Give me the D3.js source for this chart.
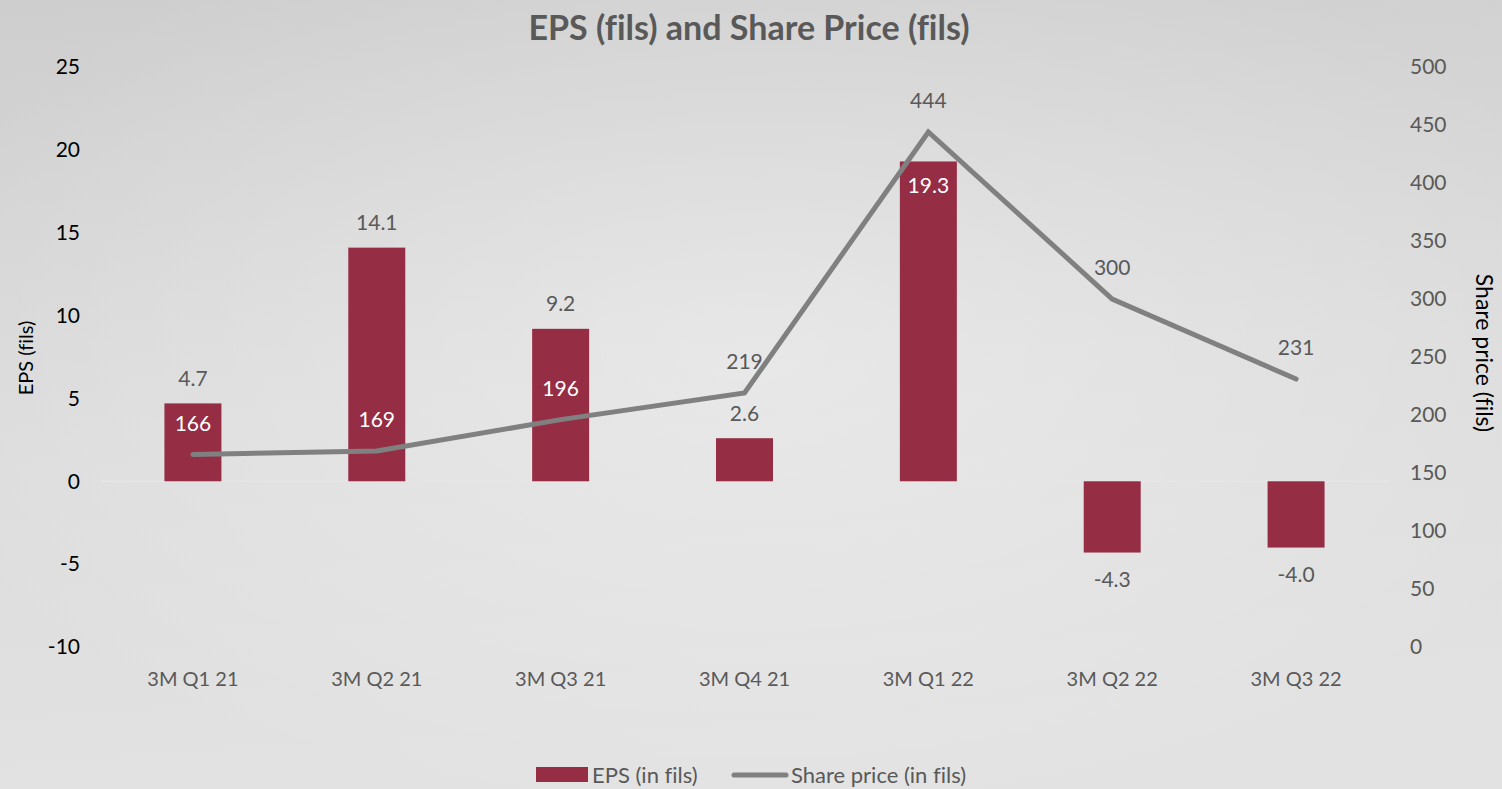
<!DOCTYPE html>
<html>
<head>
<meta charset="utf-8">
<script src="https://cdn.jsdelivr.net/npm/d3@7"></script>
<style>
  body { margin: 0; padding: 0; overflow: hidden; }
  svg { display: block; font-family: Lato, "Noto Sans", sans-serif; font-variant-ligatures: none; }
</style>
</head>
<body>
<svg id="chart" width="1502" height="789"></svg>
<script>
// chart values
var quarters = ['3M Q1 21', '3M Q2 21', '3M Q3 21', '3M Q4 21', '3M Q1 22', '3M Q2 22', '3M Q3 22'];
var eps = [4.7, 14.1, 9.2, 2.6, 19.3, -4.3, -4.0];
var sharePrice = [166, 169, 196, 219, 444, 300, 231];
var epsTicks = [-10, -5, 0, 5, 10, 15, 20, 25];
var priceTicks = [0, 50, 100, 150, 200, 250, 300, 350, 400, 450, 500];

var svg = d3.select('#chart');
var svgWidth = +svg.attr('width');
var svgHeight = +svg.attr('height');

var barColor = '#952d45';
var lineColor = '#808080';
var textGrey = '#595959';
var fontFam = 'Lato, "Noto Sans", sans-serif';

// plain hyphen instead of the unicode minus d3 uses
var fmtInt = d => String(d);
var fmtOne = d => d.toFixed(1);

// background gradient
var defs = svg.append('defs');
var bg = defs.append('linearGradient').attr('id', 'bg')
    .attr('x1', 0).attr('y1', 0).attr('x2', 0.15).attr('y2', 1);
bg.append('stop').attr('offset', '0%').attr('stop-color', '#cecece');
bg.append('stop').attr('offset', '55%').attr('stop-color', '#dcdcdc');
bg.append('stop').attr('offset', '100%').attr('stop-color', '#e2e2e2');
var glow = defs.append('radialGradient').attr('id', 'glow')
    .attr('cx', 0.5).attr('cy', 0.45).attr('r', 0.6);
glow.append('stop').attr('offset', '0%').attr('stop-color', '#ffffff').attr('stop-opacity', 0.35);
glow.append('stop').attr('offset', '100%').attr('stop-color', '#ffffff').attr('stop-opacity', 0);

svg.append('rect').attr('width', svgWidth).attr('height', svgHeight).attr('fill', 'url(#bg)');
svg.append('rect').attr('width', svgWidth).attr('height', svgHeight).attr('fill', 'url(#glow)');

// plot area
var plot = {l: 101, r: 1388, t: 67, b: 647};

var x = d3.scaleBand()
    .domain(quarters)
    .range([plot.l, plot.r])
    .paddingInner(0.69)
    .paddingOuter(0.345);

var yEps = d3.scaleLinear().domain([-10, 25]).range([plot.b, plot.t]);
var yPrice = d3.scaleLinear().domain([0, 500]).range([plot.b, plot.t]);

// title
svg.append('text')
    .attr('x', 749)
    .attr('y', 40)
    .attr('text-anchor', 'middle')
    .attr('fill', textGrey)
    .style('font-size', '34px')
    .style('font-weight', 'bold')
    .text('EPS (fils) and Share Price (fils)');

// left axis
var leftAxis = svg.append('g')
    .attr('transform', 'translate(' + 80 + ',0)')
    .call(d3.axisLeft(yEps).tickValues(epsTicks).tickFormat(fmtInt).tickSize(0).tickPadding(0));
leftAxis.select('.domain').remove();
leftAxis.selectAll('text')
    .attr('fill', '#000')
    .style('font-size', '21px')
    .style('font-family', fontFam);

// right axis
var rightAxis = svg.append('g')
    .attr('transform', 'translate(' + 1410 + ',0)')
    .call(d3.axisRight(yPrice).tickValues(priceTicks).tickFormat(fmtInt).tickSize(0).tickPadding(0));
rightAxis.select('.domain').remove();
rightAxis.selectAll('text')
    .attr('fill', textGrey)
    .style('font-size', '21px')
    .style('font-family', fontFam);

// axis titles
svg.append('text')
    .attr('transform', 'translate(33,' + 358 + ') rotate(-90)')
    .attr('text-anchor', 'middle')
    .attr('fill', '#000')
    .style('font-size', '20px')
    .text('EPS (fils)');

svg.append('text')
    .attr('transform', 'translate(1476,' + 353 + ') rotate(90)')
    .attr('text-anchor', 'middle')
    .attr('fill', '#000')
    .style('font-size', '23px')
    .text('Share price (fils)');

// category labels
var bottomAxis = svg.append('g')
    .attr('transform', 'translate(0,' + 679 + ')')
    .call(d3.axisBottom(x).tickSize(0).tickPadding(0));
bottomAxis.select('.domain').remove();
bottomAxis.selectAll('text')
    .attr('fill', textGrey)
    .attr('dy', '0.35em')
    .style('font-size', '20px')
    .style('font-family', fontFam);

// zero line
svg.append('line')
    .attr('x1', plot.l).attr('x2', plot.r)
    .attr('y1', yEps(0)).attr('y2', yEps(0))
    .attr('stroke', '#e6e6e6')
    .attr('stroke-width', 1.5);

// bars
svg.selectAll('.bar')
    .data(eps)
    .enter().append('rect')
    .attr('class', 'bar')
    .attr('x', (d, i) => x(quarters[i]))
    .attr('width', x.bandwidth())
    .attr('y', d => yEps(Math.max(0, d)))
    .attr('height', d => Math.abs(yEps(d) - yEps(0)))
    .attr('fill', barColor);

// share price line
var line = d3.line()
    .x((d, i) => x(quarters[i]) + x.bandwidth() / 2)
    .y(d => yPrice(d));

svg.append('path')
    .datum(sharePrice)
    .attr('d', line)
    .attr('fill', 'none')
    .attr('stroke', lineColor)
    .attr('stroke-width', 5)
    .attr('stroke-linecap', 'round')
    .attr('stroke-linejoin', 'miter');

// EPS labels (the tallest bar gets its label inside the end)
var maxEps = d3.max(eps);
svg.selectAll('.eps-label')
    .data(eps)
    .enter().append('text')
    .attr('class', 'eps-label')
    .attr('x', (d, i) => x(quarters[i]) + x.bandwidth() / 2)
    .attr('y', function(d) {
        if (d === maxEps) return yEps(d) + 24;
        if (d < 0) return yEps(d) + 27;
        return yEps(d) - 25;
    })
    .attr('dy', '0.35em')
    .attr('text-anchor', 'middle')
    .attr('fill', d => d === maxEps ? '#fff' : textGrey)
    .style('font-size', '21px')
    .text(fmtOne);

// share price labels, white where they sit over a bar
svg.selectAll('.price-label')
    .data(sharePrice)
    .enter().append('text')
    .attr('class', 'price-label')
    .attr('x', (d, i) => x(quarters[i]) + x.bandwidth() / 2)
    .attr('y', d => yPrice(d) - 31)
    .attr('dy', '0.35em')
    .attr('text-anchor', 'middle')
    .attr('fill', function(d, i) {
        var ly = yPrice(d) - 31;
        return (eps[i] > 0 && ly > yEps(eps[i]) + 8) ? '#fff' : textGrey;
    })
    .style('font-size', '21px')
    .text(fmtInt);

// legend
var legend = svg.append('g');
legend.append('rect')
    .attr('x', 536).attr('y', 767)
    .attr('width', 52).attr('height', 15)
    .attr('fill', barColor);
legend.append('text')
    .attr('x', 592).attr('y', 775)
    .attr('dy', '0.35em')
    .attr('fill', textGrey)
    .style('font-size', '22px')
    .text('EPS (in fils)');
legend.append('line')
    .attr('x1', 734).attr('x2', 786)
    .attr('y1', 775).attr('y2', 775)
    .attr('stroke', lineColor)
    .attr('stroke-width', 5)
    .attr('stroke-linecap', 'round');
legend.append('text')
    .attr('x', 791).attr('y', 775)
    .attr('dy', '0.35em')
    .attr('fill', textGrey)
    .style('font-size', '22px')
    .text('Share price (in fils)');
</script>
</body>
</html>
